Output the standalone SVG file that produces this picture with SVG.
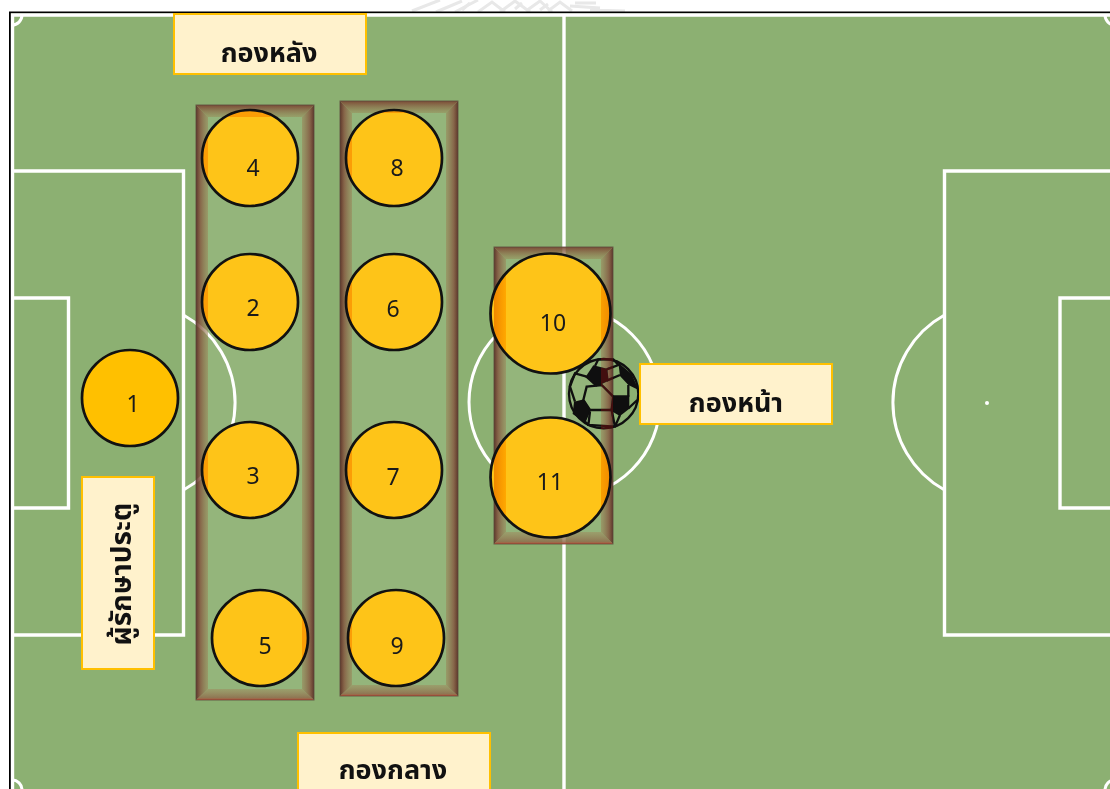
<svg xmlns="http://www.w3.org/2000/svg" width="1110" height="789" viewBox="0 0 1110 789">
<style>
.ln{fill:none;stroke:#fff;stroke-width:3.4}
.arc{fill:none;stroke:#fff;stroke-width:3}
.pf{fill:#fec418;stroke:none}
.po{stroke:#111;stroke-width:2.7;fill:none}
.num{font-family:"Noto Sans","Open Sans","DejaVu Sans",sans-serif;font-size:23px;fill:#1a1a1a;text-anchor:middle}
.box{fill:#fff2cc;stroke:#ffc000;stroke-width:2}
.th{font-family:"Noto Sans Thai","Noto Sans","DejaVu Sans",sans-serif;font-size:27px;font-weight:700;fill:#111;text-anchor:middle}
.inner{fill:#fff;fill-opacity:.07}
.edge{fill:none;stroke:#5a4a3c;stroke-width:1;opacity:.8}
.blk{fill:#0f0f0f}
.bl{fill:none;stroke:#0f0f0f;stroke-width:7}
.wm{fill:none;stroke:#e8e8e8;stroke-width:3}
</style>
<defs>
<linearGradient id="gl" x1="0" x2="1" y1="0" y2="0"><stop offset="0" stop-color="#5a2c24" stop-opacity=".92"/><stop offset=".35" stop-color="#85533f" stop-opacity=".8"/><stop offset="1" stop-color="#a08a60" stop-opacity=".55"/></linearGradient>
<linearGradient id="gr" x1="1" x2="0" y1="0" y2="0"><stop offset="0" stop-color="#5a2c24" stop-opacity=".92"/><stop offset=".35" stop-color="#85533f" stop-opacity=".8"/><stop offset="1" stop-color="#a08a60" stop-opacity=".55"/></linearGradient>
<linearGradient id="gt" x1="0" x2="0" y1="0" y2="1"><stop offset="0" stop-color="#7a4030" stop-opacity=".9"/><stop offset="1" stop-color="#a09060" stop-opacity=".5"/></linearGradient>
<linearGradient id="gb" x1="0" x2="0" y1="1" y2="0"><stop offset="0" stop-color="#d0452f"/><stop offset=".18" stop-color="#8f6a4c" stop-opacity=".85"/><stop offset="1" stop-color="#a39468" stop-opacity=".6"/></linearGradient>
<linearGradient id="og3" gradientUnits="userSpaceOnUse" x1="490" x2="611" y1="0" y2="0"><stop offset="0" stop-color="#ea7c00"/><stop offset=".13" stop-color="#ffa800"/><stop offset=".87" stop-color="#ffac00"/><stop offset="1" stop-color="#f08a00"/></linearGradient>
<clipPath id="b1"><path clip-rule="evenodd" d="M196 105H314V700H196ZM208 117V689H302V117Z"/></clipPath>
<clipPath id="b2"><path clip-rule="evenodd" d="M340 101H458V696H340ZM352 113V685H446V113Z"/></clipPath>
<clipPath id="b3"><path d="M494 247H506V544H494ZM601 247H613V544H601Z"/></clipPath>
</defs>

<rect width="1110" height="789" fill="#fff"/>
<g id="watermark">
<path class="wm" d="M412 11L440 0M436 12L462 1M455 12L478 0M478 12L492 2L505 12M500 12L515 1L530 12M526 11L540 1L552 12M548 11L560 2L572 11M570 6L600 8M590 10L625 11"/>
<path class="wm" d="M462 10L470 3M515 9L522 3M540 10L548 4M575 3L596 3"/>
</g>

<g id="pitch">
<rect x="10" y="12.500" width="1102" height="790" fill="#8cb072" stroke="#000" stroke-width="2"/>
<path class="ln" d="M1110 15H12.500V789"/>
<path class="ln" d="M564 15V789"/>
<path class="ln" d="M12 171H183.500V635H12"/>
<path class="ln" d="M12 298H68.500V508H12"/>
<path class="ln" d="M1110 171H944.500V635H1110"/>
<path class="ln" d="M1110 298H1060V508H1110"/>
<circle class="arc" cx="564.500" cy="402" r="95.500"/>
<path class="arc" d="M183.500 315A100 100 0 0 1 183.500 490"/>
<path class="arc" d="M944.500 315A100 100 0 0 0 944.500 490"/>
<circle cx="987" cy="403" r="2" fill="#fff"/>
<path class="arc" d="M22 15A10 10 0 0 1 12 25M12 780A10 10 0 0 1 22 790M1105 15A10 10 0 0 0 1115 25M1115 780A10 10 0 0 0 1105 790"/>
</g>

<g id="frame-back">
<rect class="inner" x="208" y="117" width="94" height="572"/>
<path fill="url(#gl)" d="M196 105L208 117V689L196 700Z"/>
<path fill="url(#gr)" d="M314 105L302 117V689L314 700Z"/>
<path fill="url(#gt)" d="M196 105H314L302 117H208Z"/>
<path fill="url(#gb)" d="M196 700H314L302 689H208Z"/>
<rect class="edge" x="196" y="105" width="118" height="595"/>
</g>
<g id="frame-mid">
<rect class="inner" x="352" y="113" width="94" height="572"/>
<path fill="url(#gl)" d="M340 101L352 113V685L340 696Z"/>
<path fill="url(#gr)" d="M458 101L446 113V685L458 696Z"/>
<path fill="url(#gt)" d="M340 101H458L446 113H352Z"/>
<path fill="url(#gb)" d="M340 696H458L446 685H352Z"/>
<rect class="edge" x="340" y="101" width="118" height="595"/>
</g>
<g id="frame-front">
<rect class="inner" x="506" y="259" width="95" height="273"/>
<path fill="url(#gl)" d="M494 247L506 259V532L494 544Z"/>
<path fill="url(#gr)" d="M613 247L601 259V532L613 544Z"/>
<path fill="url(#gt)" d="M494 247H613L601 259H506Z"/>
<path fill="url(#gb)" d="M494 544H613L601 532H506Z"/>
<rect class="edge" x="494" y="247" width="119" height="297"/>
</g>

<g id="ball">
<g transform="translate(560 350) scale(.3333)">
<circle class="bl" cx="131" cy="131" r="104"/>
<path class="blk" d="M100 46L142 56L146 92L108 110L76 82Z"/>
<path class="blk" d="M160 136L208 136L208 176L180 198L152 182Z"/>
<path class="blk" d="M42 155L72 148L92 182L76 218L38 192Z"/>
<path class="blk" d="M175 38L215 72L236 120L205 105L180 78Z"/>
<path class="bl" d="M80 110L125 105L160 140L155 180L90 180L70 150ZM140 92L180 75M140 58L175 45L160 28L115 28L105 48M80 80L45 70L30 110L45 155M205 105L205 140M205 175L232 150M90 185L85 225L165 230L180 195M75 215L85 225M155 180L165 230"/>
</g>
<rect x="601" y="357" width="12" height="72" fill="#420606" style="mix-blend-mode:lighten"/>
</g>

<g id="p1"><circle cx="130" cy="398" r="48" fill="#ffc000"/><circle class="po" cx="130" cy="398" r="48"/><text class="num" x="133" y="412">1</text></g>
<g id="p4"><circle class="pf" cx="250" cy="158" r="48"/><circle fill="#fb9d06" clip-path="url(#b1)" cx="250" cy="158" r="48"/><circle class="po" cx="250" cy="158" r="48"/><text class="num" x="253" y="176">4</text></g>
<g id="p2"><circle class="pf" cx="250" cy="302" r="48"/><circle fill="#fb9d06" clip-path="url(#b1)" cx="250" cy="302" r="48"/><circle class="po" cx="250" cy="302" r="48"/><text class="num" x="253" y="316">2</text></g>
<g id="p3"><circle class="pf" cx="250" cy="470" r="48"/><circle fill="#fb9d06" clip-path="url(#b1)" cx="250" cy="470" r="48"/><circle class="po" cx="250" cy="470" r="48"/><text class="num" x="253" y="484">3</text></g>
<g id="p5"><circle class="pf" cx="260" cy="638" r="48"/><circle fill="#fb9d06" clip-path="url(#b1)" cx="260" cy="638" r="48"/><circle class="po" cx="260" cy="638" r="48"/><text class="num" x="265" y="654">5</text></g>
<g id="p8"><circle class="pf" cx="394" cy="158" r="48"/><circle fill="#fb9d06" clip-path="url(#b2)" cx="394" cy="158" r="48"/><circle class="po" cx="394" cy="158" r="48"/><text class="num" x="397" y="176">8</text></g>
<g id="p6"><circle class="pf" cx="394" cy="302" r="48"/><circle fill="#fb9d06" clip-path="url(#b2)" cx="394" cy="302" r="48"/><circle class="po" cx="394" cy="302" r="48"/><text class="num" x="393" y="317">6</text></g>
<g id="p7"><circle class="pf" cx="394" cy="470" r="48"/><circle fill="#fb9d06" clip-path="url(#b2)" cx="394" cy="470" r="48"/><circle class="po" cx="394" cy="470" r="48"/><text class="num" x="393" y="485">7</text></g>
<g id="p9"><circle class="pf" cx="396" cy="638" r="48"/><circle fill="#fb9d06" clip-path="url(#b2)" cx="396" cy="638" r="48"/><circle class="po" cx="396" cy="638" r="48"/><text class="num" x="397" y="654">9</text></g>
<g id="p10"><circle class="pf" cx="550.500" cy="313.500" r="60"/><circle fill="url(#og3)" clip-path="url(#b3)" cx="550.500" cy="313.500" r="60"/><circle class="po" cx="550.500" cy="313.500" r="60"/><text class="num" x="553" y="331">10</text></g>
<g id="p11"><circle class="pf" cx="550.500" cy="477.500" r="60"/><circle fill="url(#og3)" clip-path="url(#b3)" cx="550.500" cy="477.500" r="60"/><circle class="po" cx="550.500" cy="477.500" r="60"/><text class="num" x="550" y="490">11</text></g>

<g id="label-back"><rect class="box" x="174" y="14" width="192" height="60"/><text class="th" x="269" y="62">กองหลัง</text></g>
<g id="label-forward"><rect class="box" x="640" y="364" width="192" height="60"/><text class="th" x="736" y="412">กองหน้า</text></g>
<g id="label-mid"><rect class="box" x="298" y="733" width="192" height="70"/><text class="th" x="393" y="779">กองกลาง</text></g>
<g id="label-keeper"><rect class="box" x="82" y="477" width="72" height="192"/><text class="th" style="font-size:28px" transform="translate(131 574) rotate(-90)">ผู้รักษาประตู</text></g>
</svg>
